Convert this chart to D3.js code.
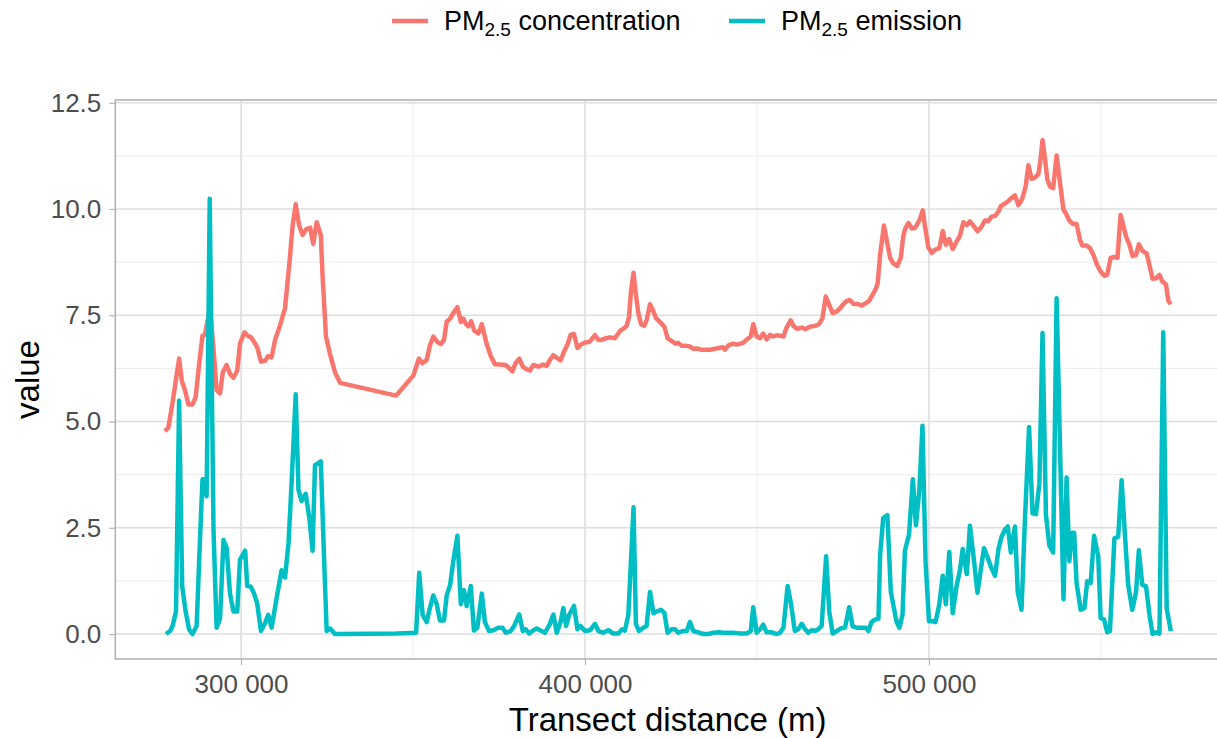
<!DOCTYPE html>
<html>
<head>
<meta charset="utf-8">
<script src="https://cdn.jsdelivr.net/npm/d3@7"></script>
<style>
  body { margin: 0; background: #ffffff; }
  svg { display: block; font-family: "Liberation Sans", Arial, Helvetica, sans-serif; }
</style>
</head>
<body>
<svg id="chart" width="1217" height="738"></svg>
<script>
// PM2.5 along the transect: [distance (m), value]
const concentration = [
  [277900,4.77],[278900,4.86],[280100,5.45],[282000,6.48],[282800,5.95],[283700,5.74],
  [284700,5.40],[285900,5.40],[286800,5.57],[287800,6.33],[288800,7.02],[289500,7.04],
  [291000,7.67],[292200,6.50],[292900,5.74],[293900,5.66],[294700,6.16],[295800,6.33],
  [296800,6.12],[297800,6.03],[298900,6.20],[299700,6.83],[301000,7.10],[301900,7.02],
  [302900,6.98],[303800,6.87],[304700,6.75],[305800,6.41],[307000,6.43],[307900,6.54],
  [308900,6.51],[309900,6.92],[311300,7.25],[312800,7.67],[314100,8.76],[315000,9.61],
  [315900,10.11],[316900,9.61],[317900,9.39],[318900,9.52],[320100,9.56],[321000,9.18],
  [322000,9.69],[323200,9.39],[323700,8.43],[324700,7.00],[325900,6.58],[327300,6.16],
  [328800,5.91],[345100,5.61],[350100,6.08],[351700,6.48],[352700,6.37],[354000,6.45],
  [354900,6.79],[355900,7.00],[357100,6.87],[358100,6.82],[359000,6.92],[359800,7.35],
  [360800,7.42],[361700,7.55],[362900,7.69],[363900,7.34],[364600,7.42],[365400,7.29],
  [366100,7.24],[366900,7.36],[367800,7.14],[369000,7.07],[370000,7.29],[371400,6.83],
  [372600,6.54],[373800,6.35],[375300,6.34],[376900,6.33],[377900,6.26],[378900,6.18],
  [379800,6.37],[380900,6.48],[381900,6.29],[382800,6.24],[384000,6.20],[385000,6.33],
  [386400,6.29],[387900,6.34],[388900,6.31],[389800,6.45],[390800,6.56],[391800,6.50],
  [392900,6.44],[394000,6.66],[395000,6.83],[395800,7.04],[396800,7.06],[397800,6.73],
  [399000,6.82],[400000,6.86],[401200,6.87],[401900,6.93],[402900,7.03],[403900,6.92],
  [404800,6.92],[406100,6.96],[407300,6.98],[408700,6.96],[409400,7.04],[410200,7.13],
  [411300,7.19],[412100,7.25],[412800,7.46],[413400,8.09],[414100,8.50],[414700,8.05],
  [415500,7.55],[416300,7.29],[417200,7.25],[417900,7.38],[418900,7.76],[419700,7.63],
  [420600,7.44],[421800,7.34],[423100,7.23],[424000,6.96],[425200,6.89],[426400,6.83],
  [427100,6.85],[428100,6.78],[429400,6.78],[430300,6.77],[431500,6.71],[432500,6.72],
  [433700,6.69],[434900,6.69],[436300,6.69],[437800,6.71],[438800,6.73],[440000,6.75],
  [440700,6.69],[441700,6.79],[443100,6.83],[444100,6.81],[445100,6.83],[446000,6.85],
  [447000,6.93],[448200,7.00],[448900,7.29],[449900,7.00],[450900,6.96],[451800,7.07],
  [452800,6.93],[453800,7.04],[454700,7.00],[455700,7.03],[456700,7.02],[457700,7.00],
  [458600,7.21],[459800,7.38],[460600,7.25],[461700,7.18],[463000,7.21],[464000,7.17],
  [465400,7.23],[466900,7.25],[468000,7.29],[469000,7.42],[470000,7.94],[470900,7.76],
  [472000,7.55],[473200,7.59],[474100,7.66],[475100,7.76],[476100,7.84],[477000,7.86],
  [478000,7.77],[479500,7.76],[480400,7.73],[481600,7.78],[482600,7.84],[483500,7.97],
  [484500,8.11],[485100,8.26],[485800,8.93],[486900,9.61],[487700,9.27],[488700,8.85],
  [489600,8.72],[490800,8.66],[491800,8.85],[492500,9.35],[493000,9.52],[494000,9.67],
  [495000,9.54],[495900,9.56],[496400,9.61],[497400,9.77],[498200,9.97],[498800,9.61],
  [499800,9.10],[500800,8.97],[501700,9.04],[503000,9.08],[504000,9.48],[504900,9.16],
  [505900,9.29],[506900,9.06],[508000,9.23],[509000,9.37],[510000,9.69],[511000,9.62],
  [511900,9.71],[512900,9.61],[514100,9.48],[515100,9.56],[516300,9.73],[517200,9.71],
  [518200,9.82],[519200,9.84],[520200,9.94],[520900,10.07],[522100,10.13],[523100,10.19],
  [524000,10.26],[525000,10.32],[526000,10.09],[527100,10.24],[528100,10.53],[528900,11.03],
  [529800,10.71],[530800,10.74],[531800,10.82],[532300,11.08],[533000,11.62],[533700,11.20],
  [534400,10.70],[535200,10.53],[536100,10.49],[537100,11.26],[538100,10.61],[539100,9.98],
  [539800,9.90],[540800,9.73],[541800,9.65],[542900,9.65],[543900,9.27],[544600,9.14],
  [545800,9.14],[546800,9.08],[547800,8.92],[548900,8.68],[549900,8.53],[551000,8.43],
  [551800,8.45],[552800,8.85],[553800,8.87],[554800,8.85],[555700,9.86],[556500,9.61],
  [557300,9.35],[558200,9.18],[559200,8.89],[560200,8.92],[561000,9.17],[562000,9.02],
  [563300,8.95],[564200,8.64],[565000,8.36],[566000,8.37],[567000,8.45],[567800,8.30],
  [568900,8.22],[569600,7.84],[570300,7.76]
];

const emission = [
  [278200,0.00],[279400,0.07],[280100,0.19],[281100,0.53],[282000,5.49],[282900,1.12],
  [283900,0.53],[284900,0.11],[285900,0.00],[287100,0.19],[288100,2.29],[288800,3.64],
  [289300,3.64],[290000,3.24],[290900,10.24],[292000,2.46],[292900,0.15],[293900,0.36],
  [294900,2.21],[295800,2.04],[296800,0.95],[297800,0.53],[298900,0.53],[299700,1.75],
  [301200,1.96],[301800,1.13],[302800,1.12],[303800,0.95],[304700,0.72],[305800,0.07],
  [307000,0.26],[307900,0.45],[308900,0.15],[310400,0.87],[311800,1.50],[312800,1.33],
  [313800,2.13],[314700,3.55],[315900,5.64],[316700,3.39],[317600,3.13],[318800,3.30],
  [319900,2.71],[320800,1.96],[321500,3.97],[322500,4.02],[323200,4.06],[324100,1.87],
  [324900,0.07],[325900,0.13],[327300,0.00],[328800,0.00],[345100,0.01],[350900,0.03],
  [351800,1.44],[352800,0.45],[354000,0.28],[354900,0.61],[355900,0.91],[356900,0.70],
  [357800,0.32],[359000,0.32],[359800,0.91],[360800,1.16],[361700,1.71],[362900,2.31],
  [363900,0.70],[364800,1.03],[365600,0.66],[366800,1.13],[367700,0.08],[368700,0.15],
  [370000,0.95],[370900,0.28],[372100,0.07],[373400,0.09],[374800,0.15],[376000,0.15],
  [377000,0.03],[378400,0.07],[379400,0.19],[380900,0.46],[381900,0.07],[382800,0.11],
  [383800,0.01],[385000,0.09],[386000,0.13],[386900,0.09],[388400,0.03],[389800,0.24],
  [390800,0.46],[391800,0.03],[392900,0.28],[393700,0.61],[394500,0.19],[395400,0.45],
  [396800,0.66],[397800,0.11],[398700,0.19],[400000,0.07],[401500,0.09],[402900,0.24],
  [403900,0.07],[405300,0.03],[406800,0.09],[408200,0.01],[409700,0.01],[410700,0.11],
  [411600,0.08],[412600,0.45],[413300,1.62],[414100,2.98],[414800,0.24],[415700,0.07],
  [417000,0.15],[417900,0.19],[418900,0.99],[419900,0.49],[420800,0.53],[422100,0.57],
  [423100,0.49],[424000,0.03],[425200,0.11],[426200,0.11],[427100,0.03],[428400,0.07],
  [429600,0.07],[430500,0.28],[431500,0.07],[432900,0.04],[434400,0.00],[435900,0.00],
  [437300,0.03],[438800,0.04],[440200,0.03],[441200,0.03],[443100,0.03],[445100,0.01],
  [447000,0.01],[448200,0.07],[448900,0.63],[449900,0.03],[450900,0.11],[451800,0.22],
  [452800,0.04],[454300,0.04],[455700,0.00],[456700,0.03],[457700,0.15],[458900,1.13],
  [459900,0.70],[461000,0.07],[462000,0.11],[463000,0.24],[464000,0.11],[464900,0.03],
  [465900,0.09],[466900,0.07],[467800,0.11],[468800,0.19],[470100,1.83],[471000,0.53],
  [472000,0.01],[473200,0.07],[474300,0.13],[475600,0.15],[476800,0.63],[477800,0.18],
  [479000,0.15],[480400,0.15],[481600,0.15],[482400,0.07],[483300,0.28],[484300,0.34],
  [485300,0.36],[485800,1.87],[486700,2.73],[487900,2.80],[488900,0.99],[489800,0.61],
  [490600,0.28],[491400,0.15],[492300,0.45],[493000,1.96],[494200,2.34],[495300,3.64],
  [496200,2.56],[497200,3.39],[498100,4.90],[499000,1.71],[500000,0.30],[501000,0.30],
  [501900,0.28],[503000,0.70],[504000,1.37],[504900,0.70],[505900,1.93],[506900,0.49],
  [508000,1.12],[509000,1.50],[509800,2.00],[511000,1.41],[511900,2.55],[513100,1.71],
  [514100,0.97],[515100,1.54],[516000,2.02],[517100,1.79],[518000,1.58],[519200,1.37],
  [520200,2.00],[521100,2.29],[522100,2.46],[522900,2.53],[523800,1.92],[525000,2.53],
  [525800,0.99],[526900,0.57],[527900,2.71],[529100,4.87],[530100,2.84],[531100,2.82],
  [532100,3.55],[533000,7.08],[534000,2.80],[535000,2.08],[536100,1.92],[537100,7.90],
  [539100,0.82],[540000,3.68],[540800,1.72],[541600,2.38],[542200,2.38],[542900,1.20],
  [544100,0.57],[545200,0.61],[546000,1.24],[547000,1.20],[548000,2.31],[549200,1.83],
  [549900,0.38],[550900,0.34],[551800,0.04],[552600,0.07],[553900,2.25],[555000,2.29],
  [556000,3.62],[557000,2.29],[557900,1.16],[559100,0.57],[560200,0.99],[561000,1.97],
  [562000,1.16],[563100,1.12],[564100,0.45],[565000,0.00],[566000,0.04],[567000,0.01],
  [568100,7.10],[569100,0.61],[570300,0.07]
];

const seriesLabels = ["concentration", "emission"];
const seriesColors = ["#F8766D", "#00BFC4"];
const yTicks = [0, 2.5, 5, 7.5, 10, 12.5];
const yMinorTicks = [1.25, 3.75, 6.25, 8.75, 11.25];
const xTicks = [300000, 400000, 500000];
const xMinorTicks = [350000, 450000, 550000];

const svg = d3.select("#chart");

// panel geometry
const panel = { left: 115.3, top: 100, right: 1220, bottom: 659 };

const x = d3.scaleLinear().domain([263450, 584600]).range([panel.left, panel.right]);
const y = d3.scaleLinear().domain([-0.588, 12.565]).range([panel.bottom, panel.top]);

const spaceLocale = d3.formatLocale({ decimal: ".", thousands: "\u00a0", grouping: [3], currency: ["", ""] });
const fmtX = spaceLocale.format(",");
const fmtY = d3.format(".1f");

// grid
const grid = svg.append("g");
grid.selectAll("line.ymin").data(yMinorTicks).join("line")
  .attr("x1", panel.left).attr("x2", panel.right)
  .attr("y1", d => y(d)).attr("y2", d => y(d))
  .attr("stroke", "#ececec").attr("stroke-width", 1);
grid.selectAll("line.xmin").data(xMinorTicks).join("line")
  .attr("y1", panel.top).attr("y2", panel.bottom)
  .attr("x1", d => x(d)).attr("x2", d => x(d))
  .attr("stroke", "#ececec").attr("stroke-width", 1);
grid.selectAll("line.ymaj").data(yTicks).join("line")
  .attr("x1", panel.left).attr("x2", panel.right)
  .attr("y1", d => y(d)).attr("y2", d => y(d))
  .attr("stroke", "#dedede").attr("stroke-width", 1.6);
grid.selectAll("line.xmaj").data(xTicks).join("line")
  .attr("y1", panel.top).attr("y2", panel.bottom)
  .attr("x1", d => x(d)).attr("x2", d => x(d))
  .attr("stroke", "#dedede").attr("stroke-width", 1.6);

// series lines
svg.append("clipPath").attr("id", "panelClip").append("rect")
  .attr("x", panel.left).attr("y", panel.top)
  .attr("width", panel.right - panel.left).attr("height", panel.bottom - panel.top);

const line = d3.line().x(d => x(d[0])).y(d => y(d[1]));
const lines = svg.append("g").attr("clip-path", "url(#panelClip)");
[concentration, emission].forEach((series, i) => {
  lines.append("path")
    .attr("d", line(series))
    .attr("fill", "none")
    .attr("stroke", seriesColors[i])
    .attr("stroke-width", 4.5)
    .attr("stroke-linejoin", "round")
    .attr("stroke-linecap", "butt");
});

// panel border
svg.append("rect")
  .attr("x", panel.left).attr("y", panel.top)
  .attr("width", panel.right - panel.left).attr("height", panel.bottom - panel.top)
  .attr("fill", "none").attr("stroke", "#b3b3b3").attr("stroke-width", 1.6);

// axes
const yAxis = svg.append("g")
  .attr("transform", `translate(${panel.left},0)`)
  .call(d3.axisLeft(y).tickValues(yTicks).tickFormat(fmtY).tickSize(6).tickPadding(8));
const xAxis = svg.append("g")
  .attr("transform", `translate(0,${panel.bottom})`)
  .call(d3.axisBottom(x).tickValues(xTicks).tickFormat(fmtX).tickSize(6).tickPadding(10));
[yAxis, xAxis].forEach(ax => {
  ax.select(".domain").remove();
  ax.selectAll(".tick line").attr("stroke", "#b3b3b3").attr("stroke-width", 1.2);
  ax.selectAll(".tick text")
    .attr("fill", "#4d4d4d")
    .style("font-size", "26px")
    .style("font-family", "'Liberation Sans', Arial, sans-serif");
});

// axis titles
svg.append("text")
  .attr("x", (panel.left + panel.right) / 2).attr("y", 731)
  .attr("text-anchor", "middle")
  .style("font-size", "33px").attr("fill", "#000")
  .text("Transect distance (m)");
svg.append("text")
  .attr("transform", `translate(39,${(panel.top + panel.bottom) / 2}) rotate(-90)`)
  .attr("text-anchor", "middle")
  .style("font-size", "33px").attr("fill", "#000")
  .text("value");

// legend
const legendX = [392, 729];
const legend = svg.append("g");
seriesLabels.forEach((label, i) => {
  const g = legend.append("g").attr("transform", `translate(${legendX[i]},0)`);
  g.append("line")
    .attr("x1", 0).attr("x2", 36).attr("y1", 21).attr("y2", 21)
    .attr("stroke", seriesColors[i]).attr("stroke-width", 4.5);
  const t = g.append("text").attr("x", 52).attr("y", 30)
    .style("font-size", "27px").attr("fill", "#000");
  t.append("tspan").text("PM");
  t.append("tspan").attr("dy", 6).style("font-size", "19px").text("2.5");
  t.append("tspan").attr("dy", -6).text(" " + label);
});
</script>
</body>
</html>
